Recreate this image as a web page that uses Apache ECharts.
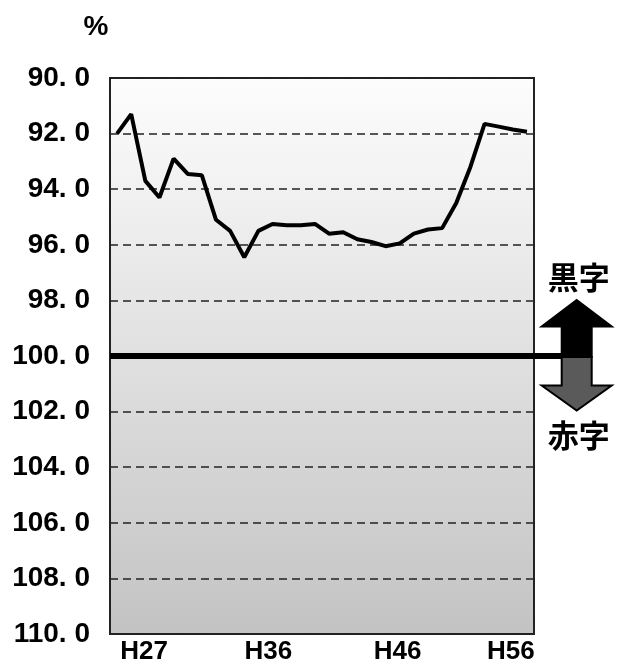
<!DOCTYPE html>
<html>
<head>
<meta charset="utf-8">
<script src="https://cdn.jsdelivr.net/npm/echarts@6/dist/echarts.min.js"></script>
<style>
html,body{margin:0;padding:0;background:#fff;}
#c{width:618px;height:664px;}
</style>
</head>
<body>
<div id="c"></div>
<script>
// Years H27..H56
const years = ['H27','H28','H29','H30','H31','H32','H33','H34','H35','H36',
               'H37','H38','H39','H40','H41','H42','H43','H44','H45','H46',
               'H47','H48','H49','H50','H51','H52','H53','H54','H55','H56'];
// ratio (%), values
const ratio = [92.0, 91.3, 93.7, 94.3, 92.9, 93.45, 93.5, 95.1, 95.5, 96.45,
               95.5, 95.25, 95.3, 95.3, 95.25, 95.6, 95.55, 95.8, 95.9, 96.05,
               95.95, 95.6, 95.45, 95.4, 94.5, 93.2, 91.65, 91.75, 91.85, 91.93];
const shownYears = ['H27','H36','H46','H56'];
const yTicks = {min: 90, max: 110, step: 2};
const baseLine = 100;
const unitText = '%';
const upText = '黒字';
const downText = '赤字';

const numFont = '"Liberation Sans", Arial, sans-serif';
const chart = echarts.init(document.getElementById('c'));
const labelRich = {
  a: {padding: [0,0,0,54]},
  b: {padding: [0,0,0,48]},
  c: {padding: [0,0,0,24]},
  d: {padding: [0,32,0,0]}
};
Object.keys(labelRich).forEach(k => Object.assign(labelRich[k], {
  fontFamily: numFont, fontSize: 26, fontWeight: 'bold', color: '#000'
}));
const richKey = {H27: 'a', H36: 'b', H46: 'c', H56: 'd'};

chart.setOption({
  animation: false,
  grid: {
    left: 110, right: 84, top: 78, bottom: 30,
    containLabel: false,
    outerBoundsMode: 'none',
    show: true,
    borderColor: '#222', borderWidth: 2,
    backgroundColor: new echarts.graphic.LinearGradient(0, 0, 0, 1, [
      {offset: 0, color: '#fdfdfd'},
      {offset: 1, color: '#c3c3c3'}
    ])
  },
  xAxis: {
    type: 'category',
    data: years,
    boundaryGap: true,
    axisLine: {show: false},
    axisTick: {show: false},
    splitLine: {show: false},
    axisLabel: {
      interval: 0,
      margin: 5,
      hideOverlap: false,
      fontFamily: numFont, fontSize: 26, fontWeight: 'bold', color: '#000',
      formatter: v => shownYears.includes(v) ? '{' + richKey[v] + '|' + v + '}' : '',
      rich: labelRich
    }
  },
  yAxis: {
    type: 'value',
    inverse: true,
    min: yTicks.min, max: yTicks.max, interval: yTicks.step,
    axisLine: {show: false},
    axisTick: {show: false},
    axisLabel: {
      margin: 20,
      fontFamily: numFont, fontSize: 28, fontWeight: 'bold', color: '#000',
      formatter: v => v.toFixed(1).replace('.', '. ')
    },
    splitLine: {
      show: true,
      lineStyle: {color: '#222', width: 1.5, type: [8, 5]}
    }
  },
  series: [{
    type: 'line',
    data: ratio,
    symbol: 'none',
    lineStyle: {color: '#000', width: 4},
    z: 5,
    markLine: {
      silent: true,
      symbol: ['none', 'none'],
      label: {show: false},
      lineStyle: {color: '#000', width: 6, type: 'solid'},
      data: [{yAxis: baseLine}]
    }
  }]
});

const y0 = chart.convertToPixel({yAxisIndex: 0}, baseLine);
const xr = 534;
const cx = 576.7;
chart.setOption({
  graphic: [
    {type: 'text', z: 11, x: 96, y: 27, style: {
      text: unitText, fill: '#000', font: 'bold 28px "Liberation Sans", Arial, sans-serif',
      textAlign: 'center', textVerticalAlign: 'middle'}},
    {type: 'rect', shape: {x: xr - 1, y: y0 - 3, width: cx - 15 - xr + 1, height: 6}, style: {fill: '#000'}, z: 10},
    {type: 'polygon', z: 11, shape: {points: [
      [cx, y0 - 56], [cx + 35, y0 - 29.5], [cx + 15, y0 - 29.5], [cx + 15, y0 + 1],
      [cx - 15, y0 + 1], [cx - 15, y0 - 29.5], [cx - 35, y0 - 29.5]
    ]}, style: {fill: '#000', stroke: '#000', lineWidth: 2}},
    {type: 'polygon', z: 11, shape: {points: [
      [cx - 15, y0 + 1], [cx + 15, y0 + 1], [cx + 15, y0 + 29.5], [cx + 35, y0 + 29.5],
      [cx, y0 + 54.5], [cx - 35, y0 + 29.5], [cx - 15, y0 + 29.5]
    ]}, style: {fill: '#5a5a5a', stroke: '#000', lineWidth: 2}},
    {type: 'text', z: 11, x: cx + 2, y: y0 - 79, style: {
      text: upText, fill: '#000', font: 'bold 31px "Noto Sans CJK JP", sans-serif',
      textAlign: 'center', textVerticalAlign: 'middle'}},
    {type: 'text', z: 11, x: cx + 2, y: y0 + 79, style: {
      text: downText, fill: '#000', font: 'bold 31px "Noto Sans CJK JP", sans-serif',
      textAlign: 'center', textVerticalAlign: 'middle'}}
  ]
});
</script>
</body>
</html>
